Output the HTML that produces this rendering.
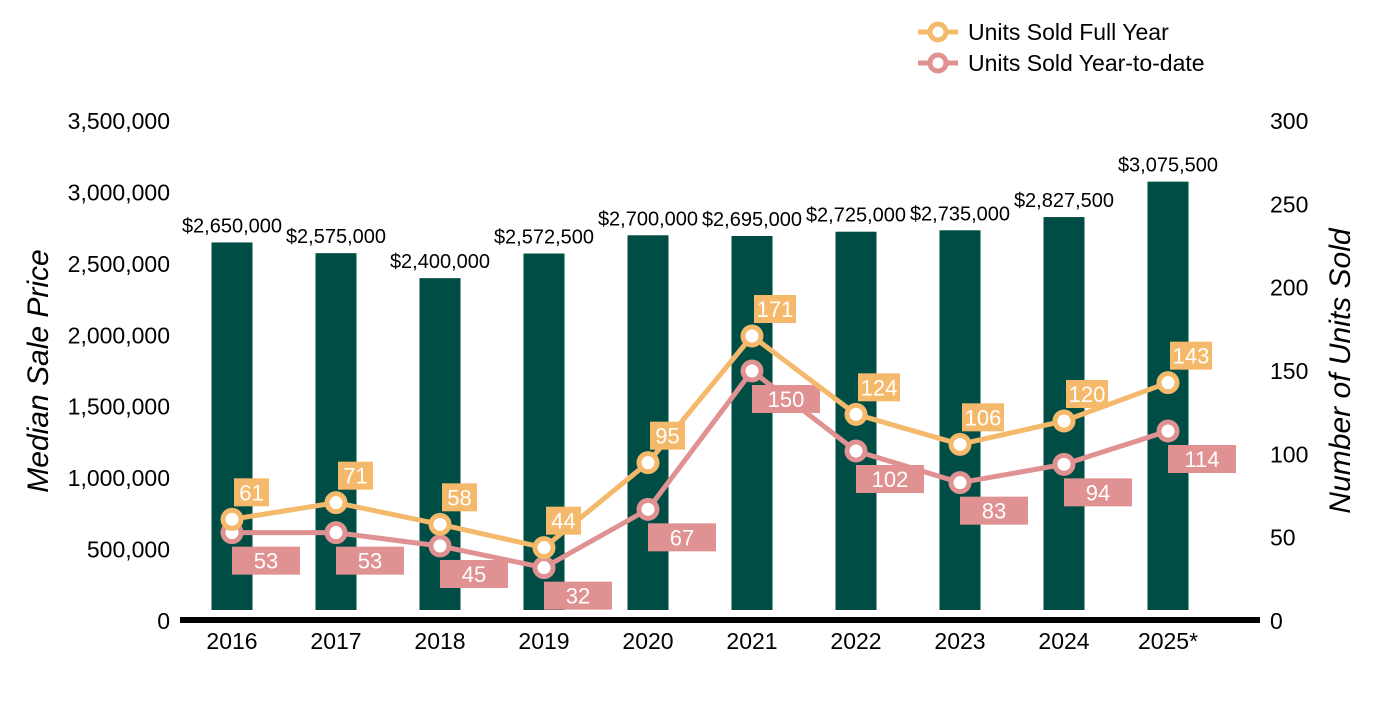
<!DOCTYPE html>
<html><head><meta charset="utf-8"><style>
body{margin:0;background:#fff}
svg text{font-family:"Liberation Sans",Arial,sans-serif}
</style></head><body>
<svg id="chart" width="1400" height="700" xmlns="http://www.w3.org/2000/svg"></svg>
<script>
const categories=["2016","2017","2018","2019","2020","2021","2022","2023","2024","2025*"];
const prices=[2650000,2575000,2400000,2572500,2700000,2695000,2725000,2735000,2827500,3075500];
const priceLabels=["$2,650,000","$2,575,000","$2,400,000","$2,572,500","$2,700,000","$2,695,000","$2,725,000","$2,735,000","$2,827,500","$3,075,500"];
const fullYear=[61,71,58,44,95,171,124,106,120,143];
const ytd=[53,53,45,32,67,150,102,83,94,114];
const leftTicks=[0,500000,1000000,1500000,2000000,2500000,3000000,3500000];
const rightTicks=[0,50,100,150,200,250,300];

const svg=document.getElementById('chart');
const NS='http://www.w3.org/2000/svg';
const y0=621,yTop=121;
const yL=v=>y0-(v/3500000)*(y0-yTop);
const yR=v=>y0-(v/300)*(y0-yTop);
const xC=i=>232+i*104;
function mk(t,a,txt){const e=document.createElementNS(NS,t);for(const k in a)e.setAttribute(k,a[k]);if(txt!==undefined)e.textContent=txt;svg.appendChild(e);return e;}
const fmt=v=>v.toLocaleString('en-US');

leftTicks.forEach(v=>{const e=mk('text',{x:170,y:yL(v)+8,'text-anchor':'end','font-size':23,fill:'#000'},fmt(v));

});
rightTicks.forEach(v=>{const e=mk('text',{x:1270,y:yR(v)+8,'font-size':23,fill:'#000'},String(v));

});
let t=mk('text',{x:48,y:371,'font-size':30,'font-style':'italic','text-anchor':'middle',transform:'rotate(-90 48 371)'},'Median Sale Price');

t=mk('text',{x:1350,y:371,'font-size':30,'font-style':'italic','text-anchor':'middle',transform:'rotate(-90 1350 371)'},'Number of Units Sold');


prices.forEach((v,i)=>{
 const b=mk('rect',{x:xC(i)-20.5,y:yL(v),width:41,height:610-yL(v),fill:'#004d45'});
 
 
 const l=mk('text',{x:xC(i),y:yL(v)-10,'text-anchor':'middle','font-size':20,fill:'#000'},priceLabels[i]);
 
 
});
const ax=mk('rect',{x:180,y:617,width:1080,height:6,fill:'#000'});

categories.forEach((c,i)=>{const e=mk('text',{x:xC(i),y:649,'text-anchor':'middle','font-size':23,fill:'#000'},c);

});

function series(data,color,name,above){
 const p=mk('polyline',{points:data.map((v,i)=>xC(i)+','+yR(v)).join(' '),fill:'none',stroke:color,'stroke-width':5});
 
 
 data.forEach((v,i)=>{
  const c=mk('circle',{cx:xC(i),cy:yR(v),r:9,fill:'#fff',stroke:color,'stroke-width':5});
  
  
  const s=String(v);
  let bx,by,bw;
  if(above){bw=s.length>2?42:35;bx=xC(i)+2;by=yR(v)-41;}
  else{bw=68;bx=xC(i);by=yR(v)+14;}
  const r=mk('rect',{x:bx,y:by,width:bw,height:28,fill:color});
  
  
  const tx=mk('text',{x:bx+bw/2,y:by+22,'text-anchor':'middle','font-size':22,fill:'#fff'},s);
  
  
 });
}
series(ytd,'#e09191','ytd',false);
series(fullYear,'#f5b96b','full-year',true);

[['Units Sold Full Year','#f5b96b',32],['Units Sold Year-to-date','#e09191',63]].forEach(([lab,col,y])=>{
 const g=mk('line',{x1:918,y1:y,x2:958,y2:y,stroke:col,'stroke-width':5});
 
 
 const c=mk('circle',{cx:938,cy:y,r:8,fill:'#fff',stroke:col,'stroke-width':5});
 
 
 const tx=mk('text',{x:968,y:y+8,'font-size':23,fill:'#000'},lab);
 
 
});
</script>
</body></html>
